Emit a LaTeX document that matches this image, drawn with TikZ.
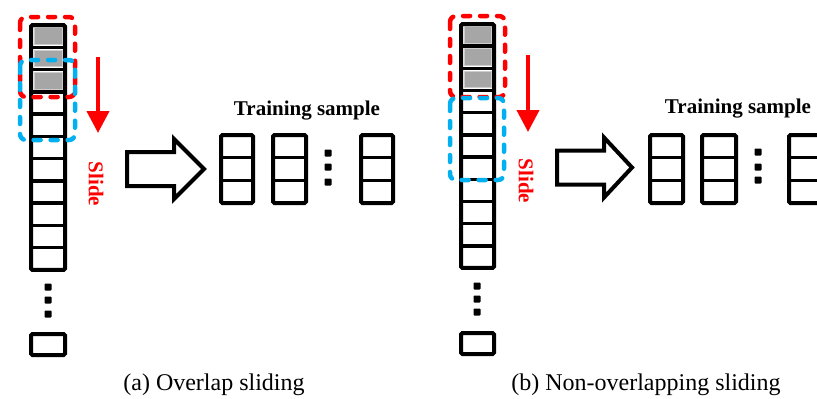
\documentclass[tikz,border=0pt]{standalone}
\usepackage{fontspec}
\setmainfont{Liberation Serif}
\usetikzlibrary{arrows.meta}
\definecolor{slidered}{RGB}{255,0,0}
\definecolor{winblue}{RGB}{0,176,240}
\definecolor{cellgray}{RGB}{166,166,166}
\definecolor{celledge}{RGB}{205,205,205}
\tikzset{
  frame/.style={draw=black, line width=4pt, rounded corners=1.5pt},
  gridline/.style={draw=black, line width=3.5pt},
  graycell/.style={fill=cellgray, draw=celledge, line width=1pt},
  redwin/.style={draw=slidered, line width=4.5pt, line cap=round, dash pattern=on 7pt off 10pt, rounded corners=6pt},
  bluewin/.style={draw=winblue, line width=4.5pt, line cap=round, dash pattern=on 7pt off 10pt, rounded corners=6pt},
  slidearrow/.style={draw=slidered, line width=4pt, -{Triangle[width=22pt,length=22pt]}},
  blockarrow/.style={draw=black, line width=4pt, fill=white, line join=miter},
  dotsq/.style={fill=black, minimum size=7pt, inner sep=0pt, rounded corners=0.8pt},
  title/.style={font=\fontsize{21}{21}\selectfont\bfseries, inner sep=0pt},
  caption/.style={font=\fontsize{24}{24}\selectfont, inner sep=0pt},
}
% a column of 11 cells with the first three shaded
\newcommand\cellcolumn[4]{% #1 left, #2 right, #3 top, #4 cell height
  \foreach \i in {0,1,2}
    \path[graycell] ({#1+3},{#3+\i*#4+2.8}) rectangle ({#2-3},{#3+(\i+1)*#4-2.8});
  \foreach \i in {1,...,10}
    \draw[gridline] (#1,{#3+\i*#4}) -- (#2,{#3+\i*#4});
  \draw[frame] (#1,#3) rectangle (#2,{#3+11*#4});
}
% a three-cell training sample
\newcommand\samplebox[3]{% #1 left, #2 right, #3 top
  \draw[gridline] (#1,{#3+22.67}) -- (#2,{#3+22.67});
  \draw[gridline] (#1,{#3+45.33}) -- (#2,{#3+45.33});
  \draw[frame] (#1,#3) rectangle (#2,{#3+68});
}
\begin{document}
\begin{tikzpicture}[x=1pt,y=-1pt]
\useasboundingbox (0,0) rectangle (817,399);
\clip (0,0) rectangle (817,399);

% ---------- (a) overlap sliding ----------
\cellcolumn{31}{65}{25}{22.27}
\node[dotsq] (a-d1) at (48,287) {};
\node[dotsq] (a-d2) at (48,300) {};
\node[dotsq] (a-d3) at (48,314) {};
\draw[frame] (31,334) rectangle (65,355);
\draw[redwin] (20,17) rectangle (75,97);
\draw[bluewin] (20,60) rectangle (75,140);
\draw[slidearrow] (98,57) -- (98,133);
\node[title, text=slidered, rotate=-90] (a-slide) at (96,184) {Slide};
\draw[blockarrow] (127,152) -- (174,152) -- (174,139) -- (204,169) -- (174,199) -- (174,186) -- (127,186) -- cycle;
\node[title] (a-title) at (307,110.5) {Training sample};
\samplebox{221}{253}{135}
\samplebox{273}{306}{135}
\node[dotsq] (a-s1) at (328,153) {};
\node[dotsq] (a-s2) at (328,167) {};
\node[dotsq] (a-s3) at (328,182) {};
\samplebox{361}{393}{135}
\node[caption] (a-cap) at (214,385) {(a) Overlap sliding};

% ---------- (b) non-overlapping sliding ----------
\cellcolumn{461}{494}{24}{22.18}
\node[dotsq] (b-d1) at (477,286) {};
\node[dotsq] (b-d2) at (477,299) {};
\node[dotsq] (b-d3) at (477,312) {};
\draw[frame] (461,333) rectangle (494,354);
\draw[redwin] (450,16) rectangle (505,97);
\draw[bluewin] (450,98) rectangle (504,180);
\draw[slidearrow] (528,55) -- (528,132);
\node[title, text=slidered, rotate=-90] (b-slide) at (526,181) {Slide};
\draw[blockarrow] (557,150.5) -- (604,150.5) -- (604,137.5) -- (632,167.5) -- (604,197.5) -- (604,184.5) -- (557,184.5) -- cycle;
\node[title] (b-title) at (738,108.5) {Training sample};
\samplebox{650}{683}{135}
\samplebox{702}{736}{135}
\node[dotsq] (b-s1) at (758,152) {};
\node[dotsq] (b-s2) at (758,167) {};
\node[dotsq] (b-s3) at (758,180) {};
\samplebox{789}{822}{135}
\node[caption] (b-cap) at (646,385) {(b) Non-overlapping sliding};
\end{tikzpicture}
\end{document}
